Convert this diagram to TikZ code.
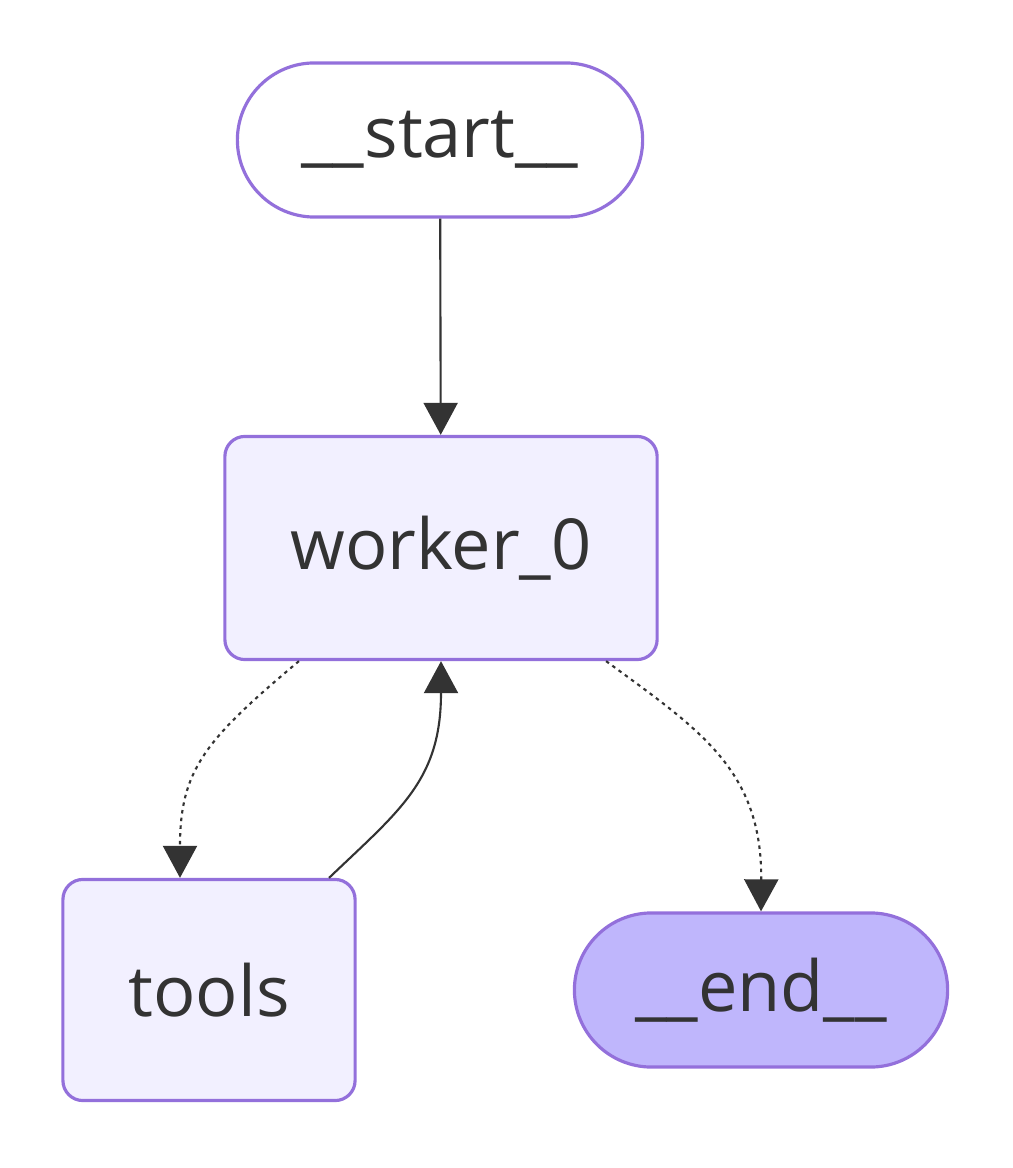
\documentclass[tikz,border=0pt]{standalone}
\usepackage{fontspec}
\setmainfont{Open Sans}
\usetikzlibrary{arrows.meta}
\definecolor{nodeline}{HTML}{9370DB}
\definecolor{nodefill}{HTML}{F2F0FF}
\definecolor{endfill}{HTML}{BFB6FC}
\definecolor{edgegray}{HTML}{333333}

\begin{document}
\begin{tikzpicture}[
  x=0.01cm, y=-0.01cm,
  every node/.style={draw=nodeline, line width=0.9pt, text=edgegray, font=\fontsize{20}{24}\selectfont, inner sep=0pt},
  terminal/.style={rounded corners=7.7mm, minimum height=1.54cm},
  stepnode/.style={fill=nodefill, rounded corners=2mm},
  edge line/.style={draw=edgegray, line width=0.6pt, -{Triangle[length=3.2mm,width=3.4mm]}},
  cond line/.style={edge line, dash pattern=on 1pt off 1.2pt}
]
\useasboundingbox (0,0) rectangle (1012,1168);
% nodes
\node[terminal, fill=white, minimum width=4.05cm] (start) at (440,140) {\_\_start\_\_};
\node[stepnode, minimum width=4.32cm, minimum height=2.23cm] (worker) at (441,548) {worker\_0};
\node[stepnode, minimum width=2.92cm, minimum height=2.21cm] (tools) at (209,990) {tools};
\node[terminal, fill=endfill, minimum width=3.73cm] (end) at (761,990) {\_\_end\_\_};
% edges
\draw[edge line] (start) -- (worker);
\draw[cond line] ([xshift=-1.42cm]worker.south) .. controls (205,740) and (180,770) .. ([xshift=-0.29cm]tools.north);
\draw[edge line] ([xshift=1.2cm]tools.north) .. controls (400,810) and (441,780) .. (worker.south);
\draw[cond line] ([xshift=1.65cm]worker.south) .. controls (700,730) and (762,770) .. (end.north);
\end{tikzpicture}
\end{document}
